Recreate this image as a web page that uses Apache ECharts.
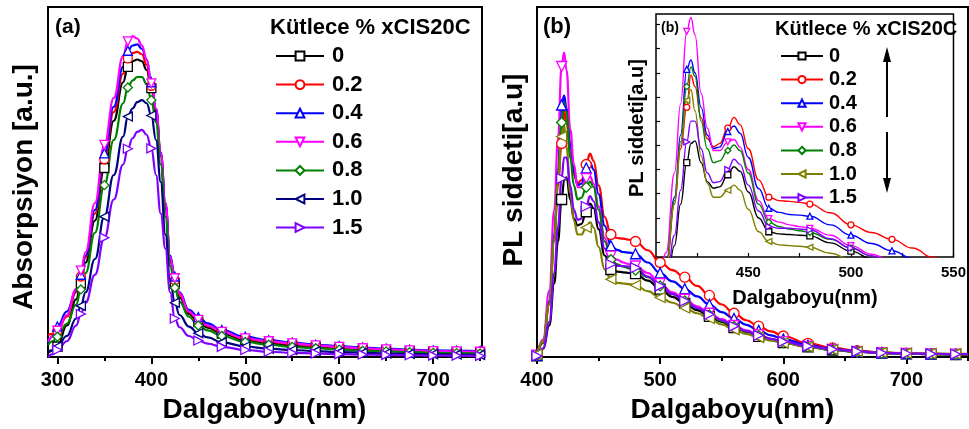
<!DOCTYPE html>
<html><head><meta charset="utf-8">
<script src="https://cdn.jsdelivr.net/npm/echarts@6/dist/echarts.min.js"></script>
<style>html,body{margin:0;padding:0;background:#fff}#c{width:969px;height:429px}</style>
</head><body><div id="c"></div>
<script>
// ---------- data ----------
const labels = ['0', '0.2', '0.4', '0.6', '0.8', '1.0', '1.5'];

// (a) absorption, wavelength in nm
const absX = [290, 295, 300, 310, 320, 325, 330, 340, 350, 360, 370, 375, 380, 385, 390, 395, 400, 405, 410, 415, 420, 425, 430, 440, 450, 460, 475, 500, 525, 550, 575, 600, 625, 650, 675, 700, 725, 750];
const abs0  = [1.2, 1.8, 3.0, 9.0, 16.5, 21, 27, 39, 54, 67.5, 78.5, 82.9, 84.5, 85, 84.5, 82, 76.8, 69.5, 57.5, 42.5, 27.5, 21, 17, 12.3, 10, 8.4, 6.7, 4.8, 3.9, 3.3, 2.8, 2.4, 2.1, 1.8, 1.6, 1.4, 1.3, 1.2];
const abs02 = [6.3, 6.6, 7.5, 11.5, 18.5, 23, 28.5, 41, 56.5, 70, 81, 85.3, 86.8, 87.2, 86.5, 83.5, 77.5, 70.5, 58, 43.5, 28.5, 22, 17.8, 12.8, 10.5, 8.9, 7.1, 5.2, 4.3, 3.7, 3.2, 2.8, 2.4, 2.1, 1.9, 1.7, 1.6, 1.5];
const abs04 = [4, 6, 8.7, 13, 19, 23.5, 29, 42, 58.2, 71.5, 83, 87.5, 89, 89.3, 88, 85, 78.5, 71, 58.5, 44, 29, 23, 18.5, 13.5, 11.4, 9.6, 7.7, 5.8, 4.8, 4.1, 3.5, 3.1, 2.7, 2.4, 2.1, 1.9, 1.8, 1.7];
const abs06 = [4.4, 5.8, 7.5, 12, 19.5, 24.7, 30, 44, 60.6, 74, 86, 90.2, 91.7, 91, 89, 85, 78.2, 71, 58, 44, 28.5, 22.5, 18.2, 13, 10.6, 9, 7.2, 5.3, 4.5, 3.9, 3.3, 2.9, 2.5, 2.2, 1.9, 1.7, 1.6, 1.5];
const abs08 = [3.4, 4.5, 5.8, 9.5, 15, 19.3, 24, 35.5, 49.1, 62, 72.5, 77, 79, 80, 80, 78, 73.4, 67, 55, 40, 26, 19.8, 15.8, 11.5, 9, 7.6, 6, 4.3, 3.5, 2.9, 2.5, 2.1, 1.8, 1.6, 1.4, 1.2, 1.1, 1.0];
const abs10 = [1.5, 2, 3, 6, 11, 14.6, 18.5, 28, 40.1, 52, 63, 68.7, 71, 72.8, 73.4, 72.5, 69, 62, 50, 35, 22, 15.5, 12, 8.7, 6.8, 5.6, 4.2, 3, 2.4, 2, 1.7, 1.4, 1.2, 1.0, 0.9, 0.8, 0.7, 0.6];
const abs15 = [0, 0.8, 2, 4.5, 9, 12.3, 15.5, 23.5, 34.1, 45, 55, 59.5, 62.5, 64.3, 64.9, 63.5, 59.6, 52, 41, 31, 18.5, 11, 8.5, 6, 4.7, 3.8, 2.9, 2, 1.5, 1.2, 1.0, 0.8, 0.7, 0.6, 0.5, 0.4, 0.4, 0.3];
const absMarkX = [300, 325, 350, 375, 400, 425, 450, 475, 500, 525, 550, 575, 600, 625, 650, 675, 700, 725, 750];

// (b) photoluminescence
const plX = [400, 405, 410, 414, 417, 420, 422, 424, 427, 430, 433, 436, 440, 443, 446, 450, 455, 460, 465, 470, 475, 480, 490, 500, 510, 520, 530, 540, 550, 560, 570, 580, 590, 600, 620, 640, 660, 680, 700, 720, 740, 750];
const pl0  = [0.3, 2.3, 9, 21, 33, 45, 50.5, 51.3, 45, 39.5, 37.6, 38, 41.5, 43.8, 42.5, 36.5, 29, 25, 24.4, 24.2, 24, 23.8, 21.8, 19.4, 17.2, 15.3, 13.4, 11.6, 10, 8.4, 7.1, 5.9, 4.9, 4.1, 2.9, 2.0, 1.5, 1.1, 0.9, 0.8, 0.7, 0.7];
const pl02 = [0.5, 4, 15, 33, 49, 61, 70.3, 67, 58, 52, 49.6, 50.5, 55, 58.1, 56, 49, 40, 35, 34, 33.8, 33.5, 33, 30.5, 27, 24.8, 22.8, 20.3, 17.6, 15, 12.5, 10.5, 8.8, 7.3, 6, 3.9, 2.6, 1.8, 1.3, 1.0, 0.9, 0.8, 0.8];
const pl04 = [0.5, 4.3, 16, 35, 53, 72, 74.7, 71, 61, 53, 49.1, 49.5, 54, 55.6, 53.5, 46.5, 37.5, 31.8, 30.6, 30, 29.8, 29.5, 27, 24, 21.6, 19.5, 17.3, 15, 12.8, 11, 9.2, 7.6, 6.2, 5.1, 3.4, 2.3, 1.6, 1.2, 1.0, 0.9, 0.8, 0.8];
const pl06 = [0.5, 5, 19, 42, 62, 83, 87, 82, 65, 55, 48.5, 48.5, 51, 51.7, 49.5, 43, 34, 28.8, 27.8, 27, 26.5, 26, 24, 21, 18.5, 16.5, 14.5, 12.5, 10.8, 9, 7.6, 6.3, 5.2, 4.3, 3, 2.1, 1.5, 1.2, 1.0, 0.9, 0.8, 0.8];
const pl08 = [0.5, 4.2, 15.5, 34, 51, 67, 72.7, 70, 57, 49, 45, 45.5, 48.5, 50.1, 48.5, 42, 33, 27.8, 26.5, 25.8, 25.3, 24.8, 22.8, 20.3, 18, 16, 14, 12, 10.3, 8.7, 7.3, 6.1, 5, 4.1, 2.9, 2.0, 1.5, 1.1, 0.9, 0.8, 0.7, 0.7];
const pl10 = [0.8, 4.5, 15, 33, 50, 63, 66.2, 60, 47, 39, 35, 35, 37, 38.5, 37, 31.5, 25, 22.2, 21.2, 21, 20.8, 20.5, 18.8, 17, 15.5, 14, 12.5, 11, 9.3, 7.8, 6.6, 5.6, 4.7, 4, 2.9, 2.1, 1.6, 1.3, 1.1, 1.0, 0.9, 0.9];
const pl15 = [0.3, 2.5, 10, 24, 37, 51, 57, 57, 49, 42, 39.2, 39.5, 43, 46, 44.5, 38.5, 31, 26.5, 26, 26, 25.8, 25.5, 23, 20.3, 18, 16, 14, 12.2, 10.5, 8.8, 7.4, 6.2, 5.2, 4.4, 3.1, 2.2, 1.6, 1.2, 1.0, 0.9, 0.8, 0.8];
const plMarkX = [400, 420, 440, 460, 480, 500, 520, 540, 560, 580, 600, 620, 640, 660, 680, 700, 720, 740];

// axis ticks / labels
const absLabelTicks = [300, 400, 500, 600, 700];
const absMinorTicks = [350, 450, 550, 650, 750];
const plLabelTicks = [400, 500, 600, 700];
const plMinorTicks = [450, 550, 650, 750];
const insetLabelTicks = [450, 500, 550];
const insetTicks = [425, 450, 475, 500, 525, 550];
const insetYTicks = [22, 29, 36, 43, 50, 57, 64, 71, 78, 85];

// ---------- styles ----------
const FONT = '"Liberation Sans", Arial, sans-serif';
const absSets = [abs0, abs02, abs04, abs06, abs08, abs10, abs15];
const plSets = [pl0, pl02, pl04, pl06, pl08, pl10, pl15];
const absColors = ['#000000', '#ff0000', '#0000ff', '#ff00ff', '#008000', '#000080', '#8000ff'];
const plColors  = ['#000000', '#ff0000', '#0000ff', '#ff00ff', '#008000', '#808000', '#8000ff'];
const symbols = ['rect', 'circle', 'triangle', 'path://M0,0L10,0L5,9Z', 'diamond', 'path://M9,0L9,10L0,5Z', 'path://M0,0L0,10L9,5Z'];

function buildData(xs, ys, marks) {
  return xs.map((x, i) => marks.indexOf(x) >= 0 ? [x, ys[i]] : { value: [x, ys[i]], symbol: 'none' });
}
function mkSeries(prefix, idx, xs, ys, marks, color, xi, yi, lw, ss, z) {
  return {
    name: prefix + labels[idx], type: 'line', xAxisIndex: xi, yAxisIndex: yi,
    data: buildData(xs, ys, marks), smooth: 0.45, smoothMonotone: 'x',
    symbol: symbols[idx], symbolSize: ss, showAllSymbol: true, z: z,
    lineStyle: { color: color, width: lw },
    itemStyle: { color: '#ffffff', borderColor: color, borderWidth: 1.3 },
    emphasis: { disabled: true }, animation: false
  };
}

const series = [];
labels.forEach((l, i) => series.push(mkSeries('a', i, absX, absSets[i], absMarkX, absColors[i], 0, 0, 2.2, 9, 2)));
labels.forEach((l, i) => series.push(mkSeries('b', i, plX, plSets[i], plMarkX, plColors[i], 2, 1, 2.2, 10, 2)));
labels.forEach((l, i) => series.push(mkSeries('c', i, plX, plSets[i], plMarkX, plColors[i], 4, 2, 1.4, 6, 7)));

const tickLabelStyle = { fontSize: 20, fontWeight: 'bold', color: '#000', fontFamily: FONT };
function mainX(grid, min, max, labelsAt, ticksAt, minorAt) {
  return [
    { type: 'value', gridIndex: grid, min: min, max: max, position: 'bottom',
      axisLine: { show: false }, splitLine: { show: false },
      axisTick: { show: true, customValues: ticksAt, length: 7, inside: false, lineStyle: { color: '#000', width: 2 } },
      axisLabel: Object.assign({ customValues: labelsAt, margin: 13 }, tickLabelStyle) },
    { type: 'value', gridIndex: grid, min: min, max: max, position: 'bottom', offset: 0,
      axisLine: { show: false }, splitLine: { show: false },
      axisTick: { show: true, customValues: minorAt, length: 4, inside: false, lineStyle: { color: '#000', width: 2 } },
      axisLabel: { show: false } }
  ];
}

const xAxes = [].concat(
  mainX(0, 290, 752, absLabelTicks, absLabelTicks, absMinorTicks),
  mainX(1, 400, 750, plLabelTicks, plLabelTicks, plMinorTicks),
  [{ type: 'value', gridIndex: 2, min: 405, max: 550, position: 'bottom', z: 6,
     axisLine: { show: false }, splitLine: { show: false },
     axisTick: { show: true, inside: true, customValues: insetTicks, length: 4, lineStyle: { color: '#000', width: 1.2 } },
     axisLabel: { customValues: insetLabelTicks, margin: 8, fontSize: 15, fontWeight: 'bold', color: '#000', fontFamily: FONT } }]
);
const yAxes = [
  { type: 'value', gridIndex: 0, min: 0, max: 100, axisLine: { show: false }, axisTick: { show: false }, axisLabel: { show: false }, splitLine: { show: false } },
  { type: 'value', gridIndex: 1, min: 0, max: 100, axisLine: { show: false }, axisTick: { show: false }, axisLabel: { show: false }, splitLine: { show: false } },
  { type: 'value', gridIndex: 2, min: 17.7, max: 88, z: 6, axisLine: { show: false }, splitLine: { show: false }, axisLabel: { show: false },
    axisTick: { show: true, inside: true, customValues: insetYTicks, length: 4, lineStyle: { color: '#000', width: 1.2 } } }
];

function txt(x, y, text, size, opts) {
  opts = opts || {};
  return {
    type: 'text', x: x, y: y, rotation: opts.rot || 0, z: 100,
    style: { text: text, fill: '#000', font: 'bold ' + size + 'px ' + FONT,
             align: opts.align || 'center', verticalAlign: 'middle',
             textAlign: opts.align || 'center', textVerticalAlign: 'middle' }
  };
}

const option = {
  backgroundColor: '#ffffff',
  animation: false,
  grid: [
    { left: 48, top: 7, width: 434, height: 350, show: true, borderColor: '#000', borderWidth: 2, backgroundColor: 'transparent' },
    { left: 537, top: 7, width: 431, height: 350, show: true, borderColor: '#000', borderWidth: 2, backgroundColor: 'transparent' },
    { left: 656, top: 14, width: 299, height: 243, show: true, borderColor: '#000', borderWidth: 1.5, backgroundColor: '#ffffff', z: 5 }
  ],
  xAxis: xAxes,
  yAxis: yAxes,
  legend: [
    { orient: 'vertical', left: 270, top: 40, itemWidth: 48, itemHeight: 11, itemGap: 6.6, selectedMode: false,
      data: labels.map(l => 'a' + l), formatter: n => n.slice(1),
      textStyle: { fontSize: 22, fontWeight: 'bold', color: '#000', fontFamily: FONT, padding: [0, 0, 0, 3] } },
    { orient: 'vertical', left: 775, top: 41, itemWidth: 42, itemHeight: 9, itemGap: 3.6, selectedMode: false, z: 8,
      data: labels.map(l => 'c' + l), formatter: n => n.slice(1),
      textStyle: { fontSize: 20, fontWeight: 'bold', color: '#000', fontFamily: FONT, padding: [0, 0, 0, 1] } }
  ],
  series: series,
  graphic: [
    txt(55, 27.5, '(a)', 21, { align: 'left' }),
    txt(543, 27, '(b)', 22, { align: 'left' }),
    txt(661, 28, '(b)', 14, { align: 'left' }),
    txt(270, 28, 'Kütlece % xCIS20C', 22, { align: 'left' }),
    txt(775, 29, 'Kütlece % xCIS20C', 20, { align: 'left' }),
    txt(264.5, 410, 'Dalgaboyu(nm)', 28),
    txt(732.5, 410, 'Dalgaboyu(nm)', 28),
    txt(805, 298, 'Dalgaboyu(nm)', 20),
    txt(24, 187, 'Absorpsiyon [a.u.]', 28, { rot: Math.PI / 2 }),
    txt(514, 170, 'PL siddeti[a.u]', 28, { rot: Math.PI / 2 }),
    txt(637, 128, 'PL siddeti[a.u]', 20, { rot: Math.PI / 2 }),
    { type: 'line', z: 100, shape: { x1: 887, y1: 117, x2: 887, y2: 58 }, style: { stroke: '#000', lineWidth: 2 } },
    { type: 'polygon', z: 100, shape: { points: [[887, 47], [883, 62], [891, 62]] }, style: { fill: '#000' } },
    { type: 'line', z: 100, shape: { x1: 887, y1: 132, x2: 887, y2: 180 }, style: { stroke: '#000', lineWidth: 2 } },
    { type: 'polygon', z: 100, shape: { points: [[887, 193], [883, 178], [891, 178]] }, style: { fill: '#000' } }
  ]
};

const chart = echarts.init(document.getElementById('c'), null, { renderer: 'canvas' });
chart.setOption(option);
</script>
</body></html>
